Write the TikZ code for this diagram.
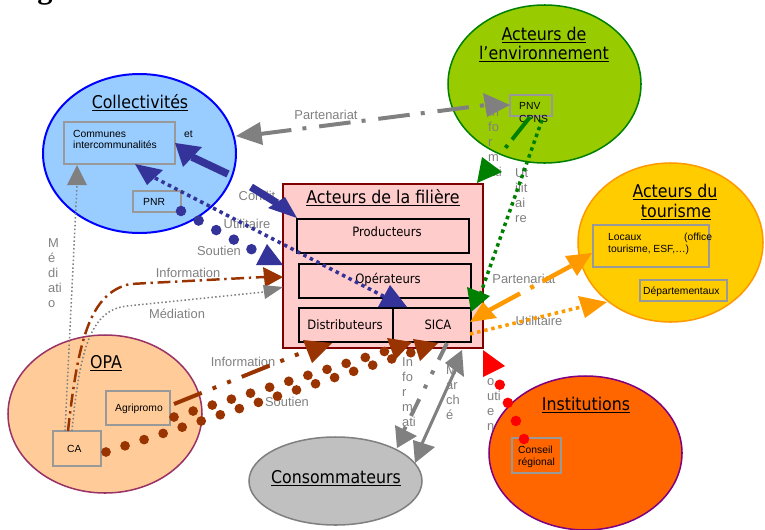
\documentclass[tikz,border=0pt]{standalone}
\usepackage{fontspec}
\setmainfont{Liberation Sans}
\newfontfamily\headfont{DejaVu Sans Condensed}
\newfontfamily\serfont{Liberation Serif}
\definecolor{collblue}{HTML}{99CCFF}
\definecolor{envgreen}{HTML}{99CC00}
\definecolor{tourgold}{HTML}{FFCC00}
\definecolor{opapeach}{HTML}{FFCC99}
\definecolor{consgray}{HTML}{C0C0C0}
\definecolor{instorange}{HTML}{FF6600}
\definecolor{filpink}{HTML}{FFCCCC}
\definecolor{filred}{HTML}{800000}
\definecolor{navy}{HTML}{333399}
\definecolor{rust}{HTML}{993300}
\definecolor{leaf}{HTML}{008000}
\definecolor{amber}{HTML}{FF9900}
\definecolor{plum}{HTML}{993366}
\definecolor{instpurple}{HTML}{800080}
\definecolor{arrgray}{HTML}{808080}
\definecolor{boxgray}{HTML}{999999}
\newcommand{\tri}[4]{\fill[#1](#2)--(#3)--(#4)--cycle;}
\tikzset{
  head/.style={font=\headfont\fontsize{15}{18}\selectfont,inner sep=0pt,anchor=base},
  inbox/.style={font=\headfont\fontsize{11}{13}\selectfont,inner sep=0pt,anchor=base},
  small/.style={font=\fontsize{8.8}{10}\selectfont,inner sep=0pt,anchor=base west},
  lbl/.style={font=\fontsize{11}{13}\selectfont,text=arrgray,inner sep=0pt,anchor=base},
  vlbl/.style={lbl,anchor=base west},
  sbox/.style={draw=boxgray,line width=1.3pt},
  ibox/.style={draw=black,line width=1.3pt},
  bigdots/.style={line width=#1,line cap=round,dash pattern=on 0pt off 17.1pt},
  sqdots/.style={line width=3pt,dash pattern=on 3pt off 3.2pt}
}
\begin{document}
\begin{tikzpicture}[x=0.03cm,y=-0.03cm]
\useasboundingbox(0,0)rectangle(765,529);
%caption remnant
\node[anchor=base,inner sep=0pt,font=\serfont\bfseries\fontsize{26}{26}\selectfont](figg)at(45,-2){g};
%groups
\draw[line width=1.7pt,draw=blue,fill=collblue](139.5,153.5)ellipse(96.5 and 79.5);
\draw[line width=1.3pt,draw=leaf,fill=envgreen](544.5,84)ellipse(96.5 and 79);
\draw[line width=1.3pt,draw=amber,fill=tourgold](670.5,242.5)ellipse(92.5 and 79.5);
\draw[line width=1.3pt,draw=plum,fill=opapeach](105,414)ellipse(97 and 79);
\draw[line width=1.3pt,draw=arrgray,fill=consgray](335.5,481)ellipse(86.5 and 44);
\draw[line width=1.3pt,draw=instpurple,fill=instorange](585.5,453)ellipse(96.5 and 77);
%filiere
\draw[line width=1.7pt,draw=filred,fill=filpink](283,184)rectangle(483,348);
\draw[ibox](297,219)rectangle(469,253);
\draw[ibox](299,264)rectangle(471,298);
\draw[ibox](299,308)rectangle(393,342);
\draw[ibox](393,308)rectangle(471,342);
%small boxes
\draw[sbox](64,122)rectangle(175,164);
\draw[sbox](133,191)rectangle(181,212);
\draw[sbox](510,95)rectangle(552,116);
\draw[sbox](593,225)rectangle(709,267);
\draw[sbox](640,280)rectangle(727,301);
\draw[sbox](106,391)rectangle(170,425);
\draw[sbox](53,431)rectangle(101,466);
\draw[sbox](512,438)rectangle(561,473);
%titles
\node[head](tcoll)at(140,108){\underline{Collectivités}};
\node[head](tenv1)at(544,40){\underline{Acteurs de}};
\node[head](tenv2)at(544,59){\underline{l’environnement}};
\node[head](ttour1)at(675,197){\underline{Acteurs du}};
\node[head](ttour2)at(676,217){\underline{tourisme}};
\node[head](tfil)at(383,203){\underline{Acteurs de la filière}};
\node[head](topa)at(106,368){\underline{OPA}};
\node[head](tcons)at(336,483){\underline{Consommateurs}};
\node[head](tinst)at(586,410){\underline{Institutions}};
\node[inbox](prod)at(387,236){Producteurs};
\node[inbox](oper)at(388,283){Opérateurs};
\node[inbox](dist)at(345,329){Distributeurs};
\node[inbox](sica)at(438,329){SICA};
%box texts
\node[small](comm1)at(73,137){Communes};
\node[small](comm2)at(73,148){intercommunalités};
\node[small](commet)at(184,137){et};
\node[small](pnr)at(143,205){PNR};
\node[small](pnv)at(519,109){PNV};
\node[small](cpns)at(519,122){CPNS};
\node[small](loc1)at(608,240){Locaux};
\node[small](loc2)at(684,240){(office};
\node[small](loc3)at(608,252){tourisme, ESF,…)};
\node[small](dep)at(643,294){Départementaux};
\node[small](agri)at(115,411){Agripromo};
\node[small](ca)at(67,452){CA};
\node[small](cons1)at(518,453){Conseil};
\node[small](cons2)at(518,465){régional};
%link labels
\node[lbl](lpar1)at(326,119){Partenariat};
\node[lbl](lconf)at(257,200){Conflit};
\node[lbl](lutil1)at(247,228){Utilitaire};
\node[lbl](lsout1)at(219,255){Soutien};
\node[lbl](linfo1)at(188,277){Information};
\node[lbl](lmed)at(177,318){Médiation};
\node[lbl](linfo2)at(243,366){Information};
\node[lbl](lsout2)at(287,406){Soutien};
\node[lbl](lpar2)at(524,283){Partenariat};
\node[lbl](lutil2)at(539,325){Utilitaire};
\foreach \t [count=\i] in {M,é,di,ati,o} \node[vlbl](lmedv\i)at(48,232+15*\i){\t};
\foreach \t [count=\i] in {In,fo,r,m,ati} \node[vlbl](linfov\i)at(488,101+15*\i){\t};
\foreach \t [count=\i] in {Ut,ilit,ai,re} \node[vlbl](lutilv\i)at(515,162+15*\i){\t};
\foreach \t [count=\i] in {In,fo,r,m,ati} \node[vlbl](lconsv\i)at(402,351+15*\i){\t};
\foreach \t [count=\i] in {M,ar,ch,é} \node[vlbl](lmarv\i)at(446,359+15*\i){\t};
\foreach \t [count=\i] in {o,uti,e,n} \node[vlbl](lsoutv\i)at(487,370+15*\i){\t};
%link ends
\coordinate(parL)at(260,134);\coordinate(parR)at(486,105);
\coordinate(confA)at(228,174);\coordinate(confB)at(192,157);
\coordinate(confC)at(251,187);\coordinate(confD)at(277,203);
\coordinate(utilA)at(155,178);\coordinate(utilB)at(385,297);
\coordinate(soutA)at(181,211);\coordinate(soutB)at(253,250);
\coordinate(infoA)at(68,431);\coordinate(infoB)at(264,277);
\coordinate(medA)at(72,431);\coordinate(medB)at(264,292);
\coordinate(medC)at(65,431);\coordinate(medD)at(77,185);
\coordinate(agriA)at(174,404);\coordinate(agriB)at(306,351);
\coordinate(agriC)at(174,417);\coordinate(agriD)at(386,351);
\coordinate(caA)at(106,452);\coordinate(caB)at(413,352);
\coordinate(cinfA)at(447,343);\coordinate(cinfB)at(404,430);
\coordinate(marA)at(458,364);\coordinate(marB)at(420,448);
\coordinate(envA)at(530,117);\coordinate(envB)at(491,166);
\coordinate(envC)at(542,120);\coordinate(envD)at(479,298);
\coordinate(touA)at(484,313);\coordinate(touB)at(571,266);
\coordinate(touC)at(470,334);\coordinate(touD)at(581,307);
\coordinate(regA)at(524,439);\coordinate(regB)at(499,383);
%collectivites
\draw[arrgray,line width=3.4pt,dash pattern=on 27pt off 9.5pt on 3.4pt off 11pt](parL)--(parR);
\tri{arrgray}{236,136}{260,122}{263,145}
\tri{arrgray}{510,105}{483,93}{487,117}
\draw[navy,line width=6.4pt](confA)--(confB);
\tri{navy}{175,143}{183,167}{202,147}
\draw[navy,line width=6.4pt](confC)--(confD);
\tri{navy}{297,218}{268,208}{285,197}
\draw[navy,sqdots](utilA)--(utilB);
\tri{navy}{135,164}{147,185}{163,170}
\tri{navy}{390,285}{378,307}{407,307}
\draw[navy,bigdots=9pt](soutA)--(soutB);
\tri{navy}{267,244}{256,265}{283,265}
%opa
\draw[rust,line width=2.1pt,dash pattern=on 11pt off 4pt on 2pt off 4pt](infoA)..controls(78,340)and(90,293)..(130,284)--(infoB);
\tri{rust}{283,277}{263,267}{265,287}
\draw[arrgray,line width=1.3pt,dash pattern=on 1.3pt off 2pt](medA)..controls(80,345)and(92,310)..(127,306)--(medB);
\tri{arrgray}{283,287}{263,285}{265,299}
\draw[arrgray,line width=1.3pt,dash pattern=on 1.3pt off 2pt](medC)--(medD);
\tri{arrgray}{77,165}{67,185}{87,185}
\draw[rust,line width=3.4pt,dash pattern=on 25.5pt off 10pt on 3.4pt off 10pt on 3.4pt off 10pt](agriA)--(agriB);
\tri{rust}{303,340}{332,343}{312,363}
\draw[rust,bigdots=8.3pt](agriC)--(agriD);
\draw[rust,bigdots=8.3pt](caA)--(caB);
\tri{rust}{387,338}{412,342}{395,360}
\tri{rust}{413,339}{438,343}{420,361}
%consommateurs
\draw[arrgray,line width=3.4pt,dash pattern=on 16pt off 10.2pt on 3.4pt off 10.2pt on 3.4pt off 10.2pt](cinfA)--(cinfB);
\tri{arrgray}{395,425}{417,436}{397,448}
\draw[arrgray,line width=2.6pt](marA)--(marB);
\tri{arrgray}{462,350}{445,363}{464,377}
\tri{arrgray}{415,463}{413,440}{435,447}
%environnement
\draw[leaf,line width=3.4pt,dash pattern=on 24.6pt off 6pt on 3pt off 20pt](envA)--(envB);
\tri{leaf}{477,183}{482,157}{502,172}
\draw[leaf,sqdots](envC)--(envD);
\tri{leaf}{467,287}{490,296}{471,312}
%tourisme
\draw[amber,line width=3.8pt,dash pattern=on 35pt off 10pt on 3.4pt off 8.5pt](touA)--(touB);
\tri{amber}{470,322}{483,302}{497,318}
\tri{amber}{592,253}{565,256}{577,276}
\draw[amber,sqdots](touC)--(touD);
\tri{amber}{607,302}{578,296}{585,318}
%institutions
\draw[red,bigdots=9pt,dash pattern=on 0pt off 16.9pt](regA)--(regB);
\tri{red}{483,350}{505,366}{483,377}
\end{tikzpicture}
\end{document}
